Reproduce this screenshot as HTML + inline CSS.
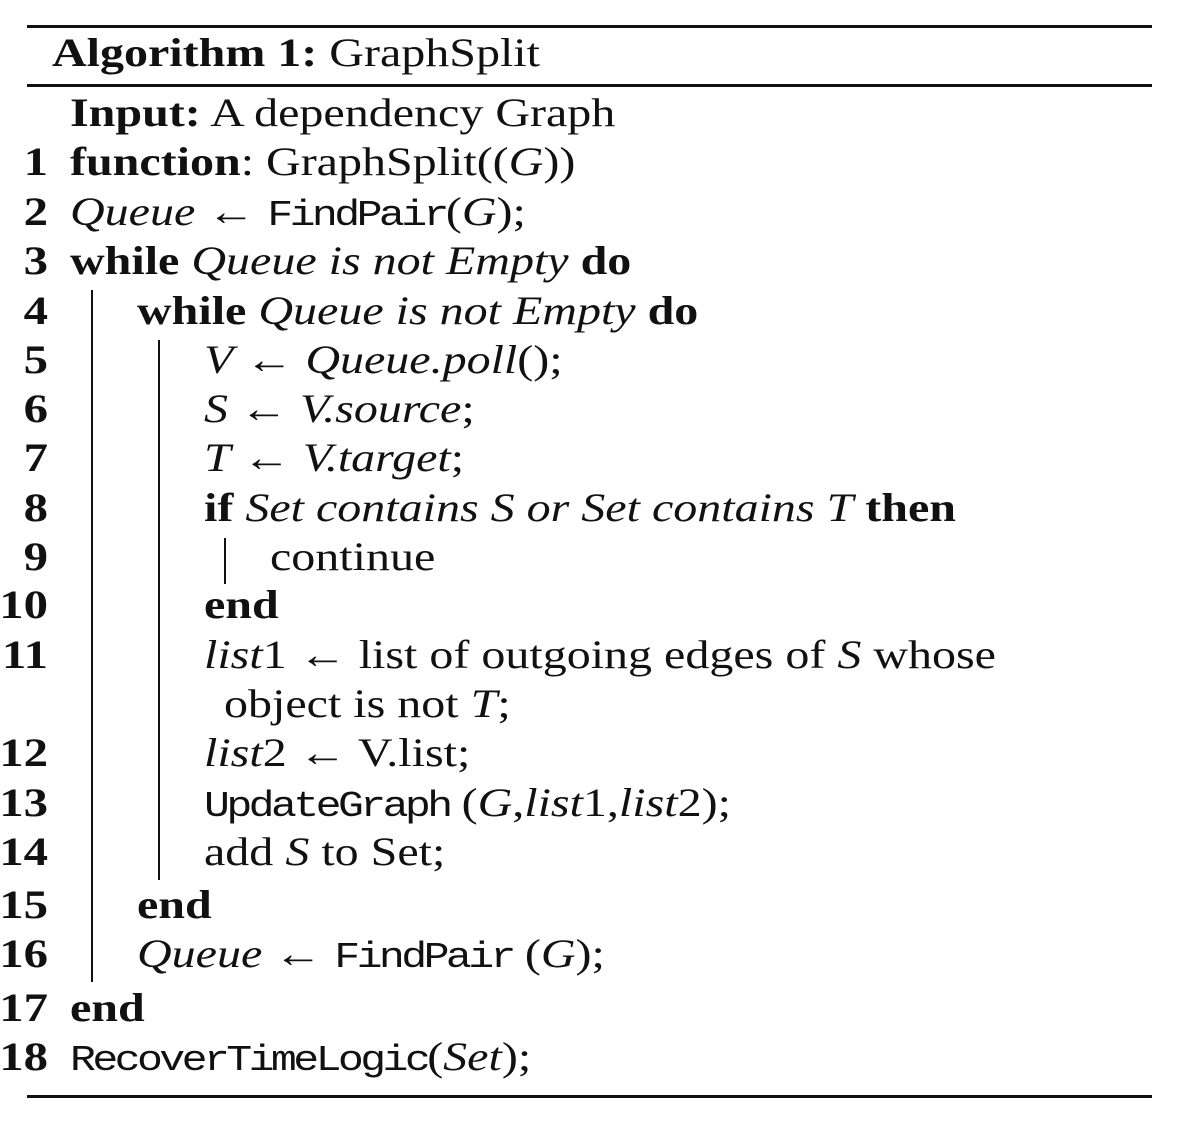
<!DOCTYPE html>
<html><head><meta charset="utf-8"><style>
html,body{margin:0;padding:0;background:#fff;}
#c{position:relative;width:1191px;height:1124px;overflow:hidden;font-family:"Liberation Serif",serif;font-size:40px;color:#111;}
.r{position:absolute;left:27px;width:1125px;background:#111;}
.l{position:absolute;height:50px;line-height:50px;white-space:nowrap;transform:scaleX(1.2);transform-origin:0 50%;}
.n{position:absolute;height:50px;line-height:50px;font-weight:bold;width:50px;text-align:right;left:-2px;transform:scaleX(1.22);transform-origin:100% 50%;}
.v{position:absolute;width:2px;background:#111;}
b{font-weight:bold;}
i{font-style:italic;}
.tt{font-family:"Liberation Mono",monospace;font-size:36px;letter-spacing:-3px;}
</style></head><body>
<div id="c">
<div class="r" style="top:25px;height:3px"></div>
<div class="l" style="left:52px;top:28px"><b>Algorithm 1:</b> GraphSplit</div>
<div class="r" style="top:84px;height:3px"></div>
<div class="r" style="top:1095px;height:3px"></div>

<div class="v" style="left:91px;top:290px;height:692px"></div>
<div class="v" style="left:158px;top:340px;height:540px"></div>
<div class="v" style="left:224px;top:538px;height:46px"></div>

<div class="l" style="left:70px;top:88px"><b>Input:</b> A dependency Graph</div>

<div class="n" style="top:137px">1</div>
<div class="l" style="left:70px;top:137px"><b>function</b>: GraphSplit((<i>G</i>))</div>
<div class="n" style="top:187px">2</div>
<div class="l" style="left:70px;top:187px"><i>Queue</i> ← <span class="tt">FindPair</span>(<i>G</i>);</div>
<div class="n" style="top:236px">3</div>
<div class="l" style="left:70px;top:236px"><b>while</b> <i>Queue is not Empty</i> <b>do</b></div>
<div class="n" style="top:286px">4</div>
<div class="l" style="left:137px;top:286px"><b>while</b> <i>Queue is not Empty</i> <b>do</b></div>
<div class="n" style="top:335px">5</div>
<div class="l" style="left:204px;top:335px"><i>V</i> ← <i>Queue.poll</i>();</div>
<div class="n" style="top:384px">6</div>
<div class="l" style="left:204px;top:384px"><i>S</i> ← <i>V.source</i>;</div>
<div class="n" style="top:433px">7</div>
<div class="l" style="left:204px;top:433px"><i>T</i> ← <i>V.target</i>;</div>
<div class="n" style="top:483px">8</div>
<div class="l" style="left:204px;top:483px"><b>if</b> <i>Set contains S or Set contains T</i> <b>then</b></div>
<div class="n" style="top:532px">9</div>
<div class="l" style="left:270px;top:532px">continue</div>
<div class="n" style="top:580px">10</div>
<div class="l" style="left:204px;top:580px"><b>end</b></div>
<div class="n" style="top:630px">11</div>
<div class="l" style="left:204px;top:630px"><i>list</i>1 ← list of outgoing edges of <i>S</i> whose</div>
<div class="l" style="left:224px;top:679px">object is not <i>T</i>;</div>
<div class="n" style="top:728px">12</div>
<div class="l" style="left:204px;top:728px"><i>list</i>2 ← V.list;</div>
<div class="n" style="top:778px">13</div>
<div class="l" style="left:204px;top:778px"><span class="tt">UpdateGraph</span> (<i>G</i>,<i>list</i>1,<i>list</i>2);</div>
<div class="n" style="top:827px">14</div>
<div class="l" style="left:204px;top:827px">add <i>S</i> to Set;</div>
<div class="n" style="top:880px">15</div>
<div class="l" style="left:137px;top:880px"><b>end</b></div>
<div class="n" style="top:929px">16</div>
<div class="l" style="left:137px;top:929px"><i>Queue</i> ← <span class="tt">FindPair</span> (<i>G</i>);</div>
<div class="n" style="top:983px">17</div>
<div class="l" style="left:70px;top:983px"><b>end</b></div>
<div class="n" style="top:1032px">18</div>
<div class="l" style="left:70px;top:1032px"><span class="tt">RecoverTimeLogic</span>(<i>Set</i>);</div>
</div>
</body></html>
